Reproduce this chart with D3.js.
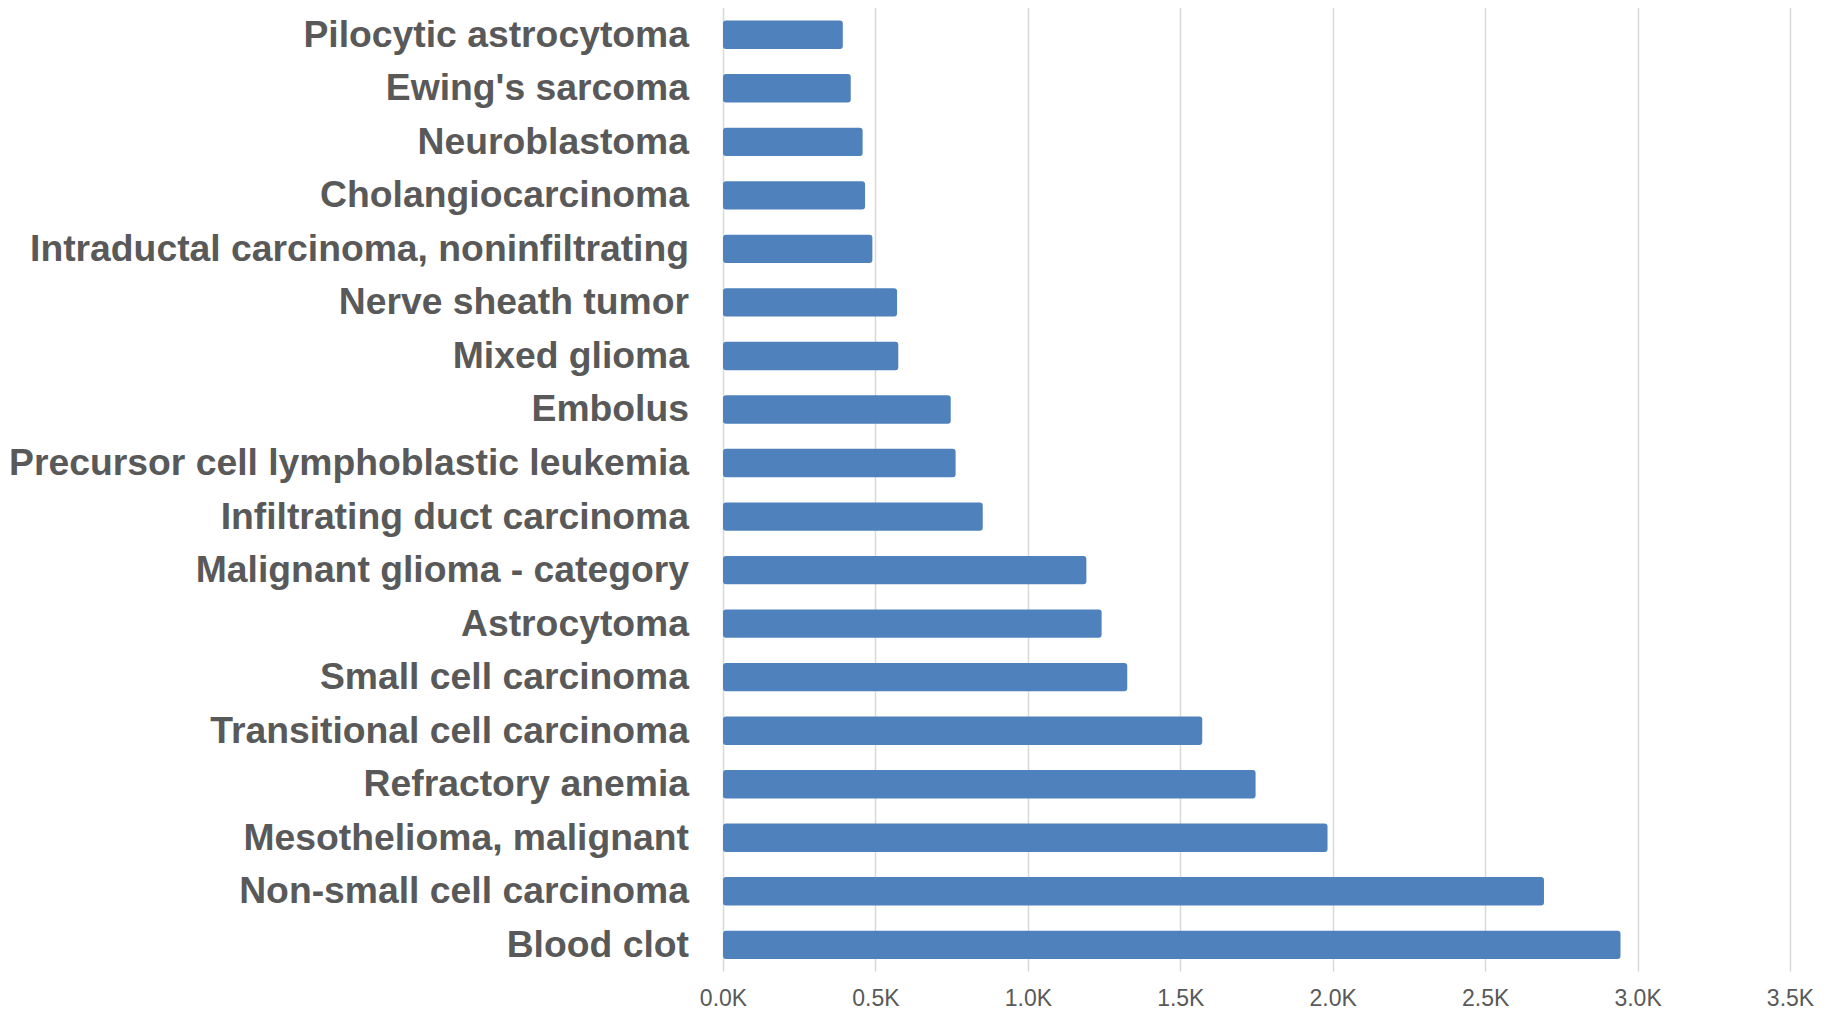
<!DOCTYPE html>
<html>
<head>
<meta charset="utf-8">
<script src="https://cdn.jsdelivr.net/npm/d3@7"></script>
<style>
  html, body { margin: 0; padding: 0; background: #ffffff; }
  svg { display: block; }
</style>
</head>
<body>
<svg id="chart" width="1826" height="1011"></svg>
<script>
const categories = [
  "Pilocytic astrocytoma",
  "Ewing's sarcoma",
  "Neuroblastoma",
  "Cholangiocarcinoma",
  "Intraductal carcinoma, noninfiltrating",
  "Nerve sheath tumor",
  "Mixed glioma",
  "Embolus",
  "Precursor cell lymphoblastic leukemia",
  "Infiltrating duct carcinoma",
  "Malignant glioma - category",
  "Astrocytoma",
  "Small cell carcinoma",
  "Transitional cell carcinoma",
  "Refractory anemia",
  "Mesothelioma, malignant",
  "Non-small cell carcinoma",
  "Blood clot"
];
const values = [
  393, 419, 458, 466, 490, 571, 575, 747, 763,
  852, 1192, 1242, 1326, 1572, 1747, 1983, 2693, 2944
];
const tickValues = [0, 500, 1000, 1500, 2000, 2500, 3000, 3500];

(function () {
  const svg = d3.select("#chart");
  const plotLeft = 723, plotRight = 1790, plotTop = 8, plotBottom = 971.6;
  const font = "'Liberation Sans', Arial, Helvetica, sans-serif";

  const x = d3.scaleLinear().domain([0, 3500]).range([plotLeft, plotRight]);
  const y = d3.scaleBand().domain(categories).range([plotTop, plotBottom])
    .paddingInner(0.47).paddingOuter(0.235);

  // gridlines
  svg.append("g").selectAll("line").data(tickValues).join("line")
    .attr("x1", d => Math.round(x(d)) + 0.5).attr("x2", d => Math.round(x(d)) + 0.5)
    .attr("y1", plotTop).attr("y2", plotBottom)
    .attr("stroke", "#d9d9d9").attr("stroke-width", 1.5);

  // bars
  svg.append("g").selectAll("rect").data(values).join("rect")
    .attr("x", x(0))
    .attr("y", (d, i) => y(categories[i]))
    .attr("width", d => x(d) - x(0))
    .attr("height", y.bandwidth())
    .attr("rx", 3).attr("ry", 3)
    .attr("fill", "#4f81bd");

  // category labels
  svg.append("g").selectAll("text").data(categories).join("text")
    .attr("x", 689)
    .attr("y", d => y(d) + y.bandwidth() / 2)
    .attr("dy", "0.32em")
    .attr("text-anchor", "end")
    .attr("font-family", font)
    .attr("font-weight", "bold")
    .attr("font-size", 37.3)
    .attr("fill", "#595959")
    .text(d => d);

  // x axis tick labels
  const xAxis = d3.axisBottom(x).tickValues(tickValues)
    .tickFormat(d => (d / 1000).toFixed(1) + "K").tickSize(0).tickPadding(0);
  const gx = svg.append("g").attr("transform", "translate(0, 990)").call(xAxis);
  gx.select(".domain").remove();
  gx.selectAll("text")
    .attr("font-family", font)
    .attr("font-size", 23)
    .attr("fill", "#595959")
    .attr("dy", "0.71em")
    .attr("y", 0);
})();
</script>
</body>
</html>
